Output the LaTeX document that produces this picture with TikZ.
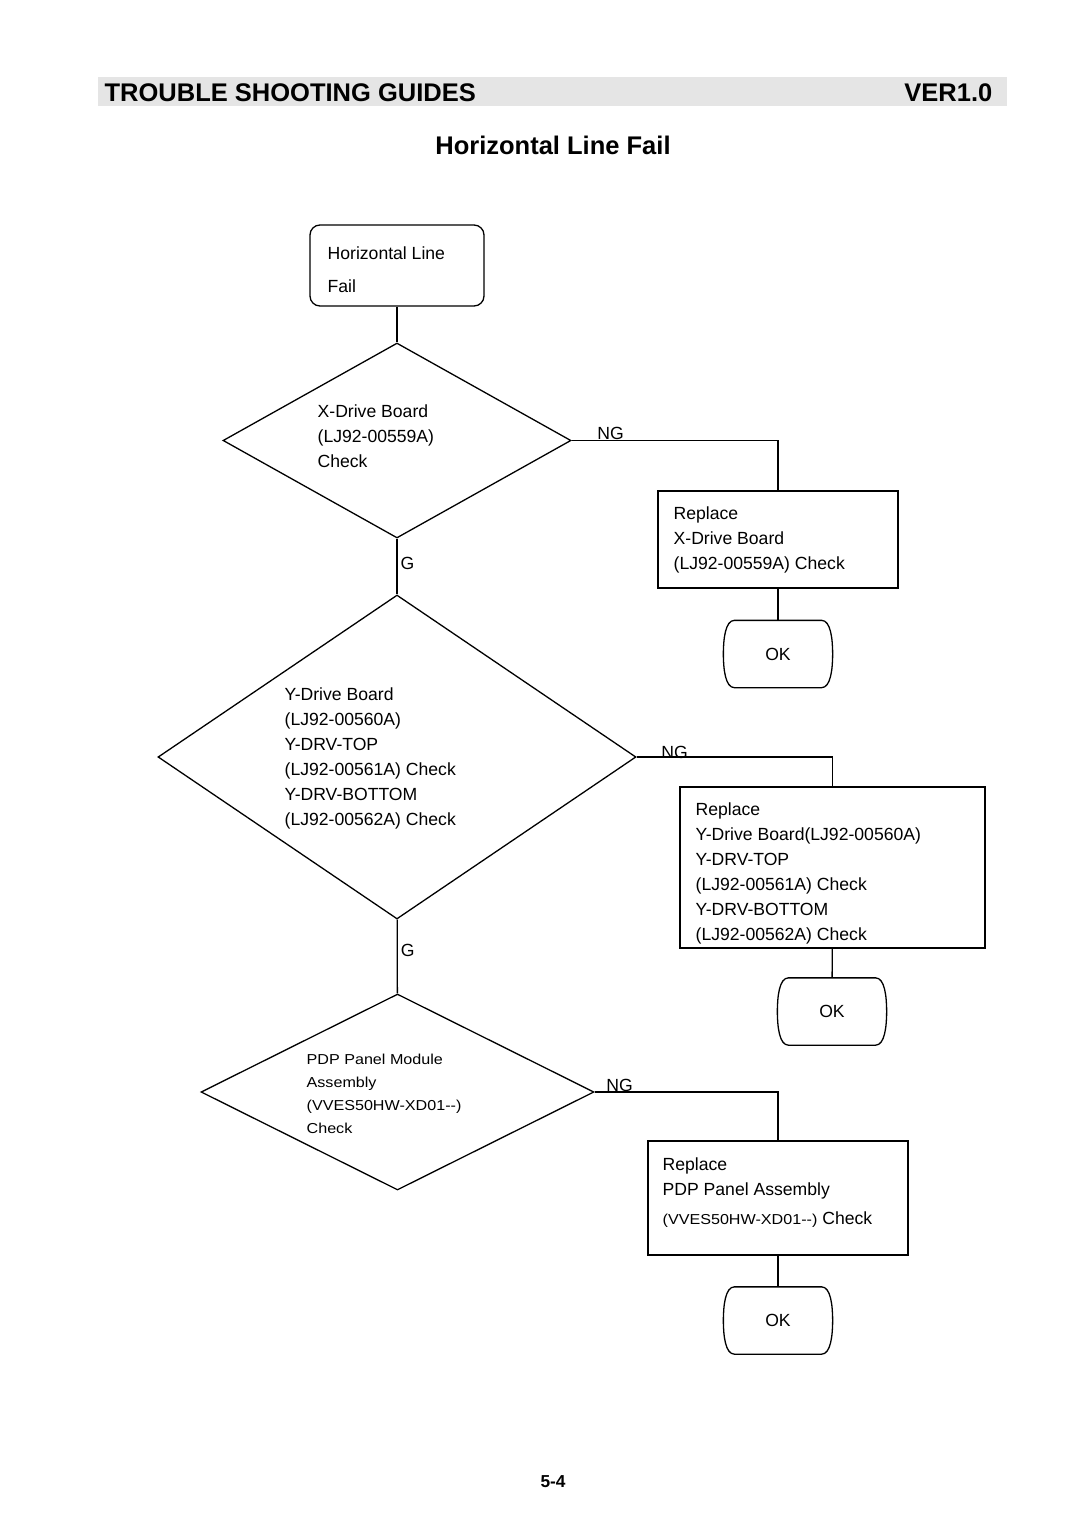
\documentclass[tikz,border=0pt]{standalone}
\usepackage{fontspec}
\setmainfont{Liberation Sans}
\newfontfamily\widesans[FakeStretch=1.12]{Liberation Sans}
\usepackage{tikz}
\usetikzlibrary{shapes.geometric}

% outline of an OK terminal (sides bulge outwards)
\newcommand\okline[1]{\draw ([xshift=11pt]#1.north west) -- ([xshift=-11pt]#1.north east) .. controls +(9pt,0) and +(0,15pt) .. (#1.east) .. controls +(0,-15pt) and +(9pt,0) .. ([xshift=-11pt]#1.south east) -- ([xshift=11pt]#1.south west) .. controls +(-9pt,0) and +(0,-15pt) .. (#1.west) .. controls +(0,15pt) and +(-9pt,0) .. cycle;}

\begin{document}
\begin{tikzpicture}[x=1pt,y=-1pt,line width=1.3pt,font=\fontsize{17.6}{25}\selectfont]
\tikzstyle{cond} = [diamond,draw,inner sep=0pt];
\tikzstyle{rpl} = [rectangle,draw];
\tikzstyle{okbox} = [rectangle,minimum width=108pt,minimum height=66pt];
\tikzstyle{txt} = [align=left,inner sep=0pt,anchor=north west];
\tikzstyle{ng} = [anchor=south west,inner sep=0pt];
\tikzstyle{gl} = [anchor=west,inner sep=0pt,xshift=3pt];
\useasboundingbox (0,0) rectangle (1080,1528);

% heading
\fill[gray!20] (98,77) rectangle (1007,106);
\node[anchor=base west,inner sep=0pt,font=\fontsize{25.5}{30}\selectfont\bfseries] (head) at (104,101) {TROUBLE SHOOTING GUIDES};
\node[anchor=base east,inner sep=0pt,font=\fontsize{25.5}{30}\selectfont\bfseries] (ver) at (993,101) {VER1.0};
\node[anchor=base,inner sep=0pt,font=\fontsize{25.5}{30}\selectfont\bfseries] (title) at (553,154) {Horizontal Line Fail};

\node[draw,rounded corners=10pt,minimum width=174pt,minimum height=81pt] (fail) at (397,265.5) {};
\node[txt] (failtxt) at (327,246) {Horizontal Line\\[8pt]Fail};

% X-Drive
\node[cond,minimum width=348pt,minimum height=195pt] (xdrv) at (397,440.5) {};
\node[txt] (xdrvtxt) at (317,404) {X-Drive Board\\(LJ92-00559A)\\Check};
\node[rpl,minimum width=240pt,minimum height=97pt] (xrep) at (778,539.5) {};
\node[txt] (xreptxt) at (673,506) {Replace\\X-Drive Board\\(LJ92-00559A) Check};
\node[okbox] (xok) at (778,654) {OK};
\okline{xok}
\draw (fail) -- (xdrv);
\draw (xdrv.east) node[ng,xshift=25pt] (ng1) {NG} -| (xrep.north);
\draw (xrep) -- (xok);

% Y-Drive
\node[cond,minimum width=478pt,minimum height=324pt] (ydrv) at (397,757) {};
\node[txt] (ydrvtxt) at (284,687) {Y-Drive Board\\(LJ92-00560A)\\Y-DRV-TOP\\(LJ92-00561A) Check\\Y-DRV-BOTTOM\\(LJ92-00562A) Check};
\node[rpl,minimum width=305pt,minimum height=161pt] (yrep) at (832.5,867.5) {};
\node[txt] (yreptxt) at (695,802) {Replace\\Y-Drive Board(LJ92-00560A)\\Y-DRV-TOP\\(LJ92-00561A) Check\\Y-DRV-BOTTOM\\(LJ92-00562A) Check};
\node[okbox] (yok) at (832,1011.5) {OK};
\okline{yok}
\draw (xdrv) -- node[gl,yshift=3pt] (g1) {G} (ydrv);
\draw (ydrv.east) node[ng,xshift=24pt,yshift=-2pt] (ng2) {NG} -| (yrep.north);
\draw (yrep) -- (yok);

% PDP panel
\node[cond,minimum width=393pt,minimum height=196pt] (pdp) at (397.5,1092) {};
\node[txt,font=\widesans\fontsize{14.4}{23}\selectfont] (pdptxt) at (306,1053) {PDP Panel Module\\Assembly\\(VVES50HW-XD01--)\\Check};
\node[rpl,minimum width=260pt,minimum height=114pt] (prep) at (778,1198) {};
\node[txt] (preptxt) at (662,1157) {Replace\\PDP Panel Assembly\\[4pt]{\widesans\fontsize{14.4}{23}\selectfont (VVES50HW-XD01--)} Check};
\node[okbox] (pok) at (778,1320.5) {OK};
\okline{pok}
\draw (ydrv) -- node[gl,yshift=6pt] (g2) {G} (pdp);
\draw (pdp.east) node[ng,xshift=11pt] (ng3) {NG} -| (prep.north);
\draw (prep) -- (pok);

\node[anchor=base,inner sep=0pt,font=\fontsize{17.3}{20}\selectfont\bfseries] (page) at (553,1487) {5-4};
\end{tikzpicture}
\end{document}
